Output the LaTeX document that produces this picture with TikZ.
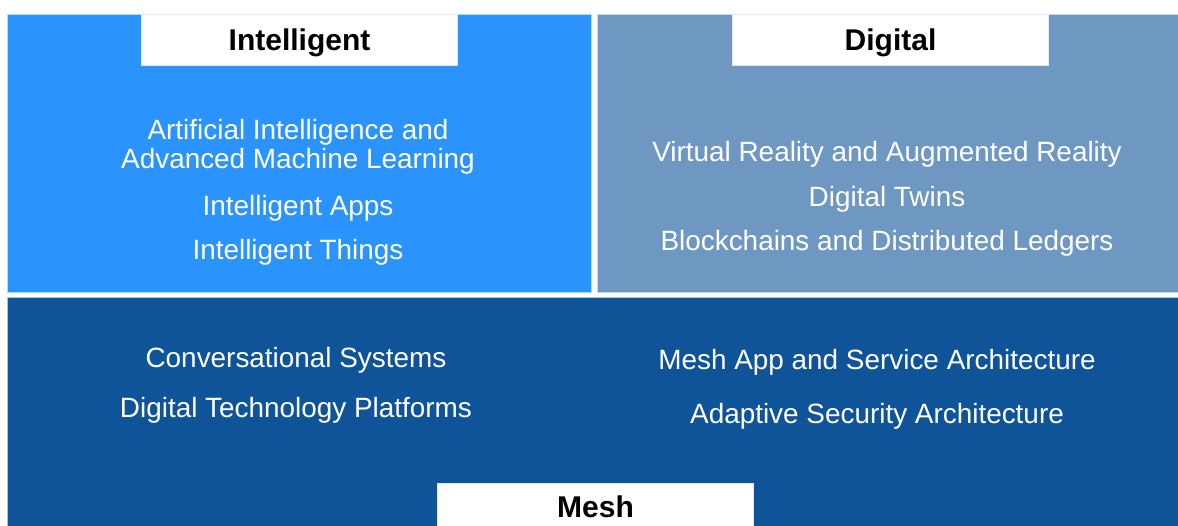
\documentclass[tikz,border=0pt]{standalone}
\usepackage{fontspec}
\setmainfont{Liberation Sans}
\usetikzlibrary{positioning}

\definecolor{IntelBlue}{RGB}{42,147,252}
\definecolor{DigiBlue}{RGB}{110,152,194}
\definecolor{MeshBlue}{RGB}{15,84,153}

\begin{document}
\begin{tikzpicture}[x=1pt, y=-1pt]

\def\TabWidth{316pt}
\def\TabHeight{51pt}

% Styles
\tikzstyle{panel} =
	[draw=white!65!IntelBlue, line width=1pt, anchor=north west, inner sep=0pt]

\tikzstyle{tab} =
	[panel, fill=white, draw=white!80!DigiBlue, minimum width=\TabWidth,
	 minimum height=\TabHeight, text depth=0pt, font=\fontsize{30}{32}\selectfont\bfseries]

\tikzstyle{item} =
	[text=white, align=center, font=\fontsize{27.9}{29}\selectfont, inner sep=0pt]

\useasboundingbox (0,0) rectangle (1178,526);

% Panels

\node (IntelPanel) at (7, 14)
	[panel, fill=IntelBlue, minimum width=584pt, minimum height=278pt] {};
\node (DigiPanel) at (597, 14)
	[panel, fill=DigiBlue, draw=white!65!DigiBlue, minimum width=582pt, minimum height=278pt] {};
\node (MeshPanel) at (7, 297)
	[panel, fill=MeshBlue, draw=white!65!MeshBlue, minimum width=1172pt, minimum height=232pt] {};

% Tabs

\node (IntelTab) at (141, 14) [tab] {Intelligent};
\node (DigiTab) at (732, 14) [tab] {Digital};
\node (MeshTab) at (437, 483) [tab, minimum height=46pt] {Mesh};

% Items

\node (AIML) at (298, 147) [item] {Artificial Intelligence and\\Advanced Machine Learning};
\node (IntelApps) at (298, 208) [item] {Intelligent Apps};
\node (IntelThings) at (298, 252) [item] {Intelligent Things};

\node (VRAR) at (887, 154) [item] {Virtual Reality and Augmented Reality};
\node (DigiTwins) at (887, 199) [item] {Digital Twins};
\node (Blockchains) at (887, 243) [item] {Blockchains and Distributed Ledgers};

\node (ConvSys) at (296, 360) [item] {Conversational Systems};
\node (DigiPlatforms) at (296, 410) [item] {Digital Technology Platforms};
\node (MeshApp) at (877, 362) [item] {Mesh App and Service Architecture};
\node (AdaptSec) at (877, 416) [item] {Adaptive Security Architecture};

\end{tikzpicture}
\end{document}
